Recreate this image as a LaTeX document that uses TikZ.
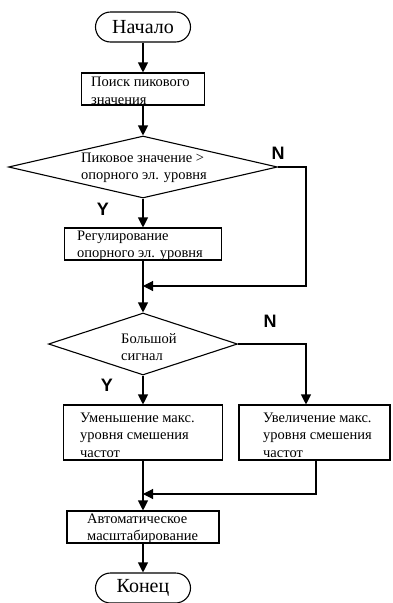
\documentclass[tikz,border=0pt]{standalone}
\usepackage{fontspec}
\setmainfont{Liberation Serif}
\newfontfamily\lblfont{Liberation Sans}
\usetikzlibrary{arrows.meta,shapes.geometric}
\tikzset{
  box/.style={draw, line width=1.1pt, inner sep=0pt},
  term/.style={draw, line width=1.1pt, rounded corners=15pt, minimum width=95pt, minimum height=30pt, inner sep=0pt, font=\fontsize{20}{22}\selectfont},
  dia/.style={draw, line width=1.1pt, diamond, inner sep=0pt},
  txt/.style={anchor=west, align=left, inner sep=0pt, font=\fontsize{14.5}{17.5}\selectfont},
  yn/.style={inner sep=0pt, font=\lblfont\bfseries\fontsize{18}{20}\selectfont},
  arr/.style={line width=1.1pt, -{Triangle[length=10pt,width=10pt]}},
  ln/.style={line width=1.1pt}
}
\begin{document}
\begin{tikzpicture}[x=1pt,y=-1pt]
\useasboundingbox (0,0) rectangle (392,603);
% terminals
\node[term] (start) at (143,27) {Начало};
\node[term] (end) at (143,588) {Конец};
% box 1
\node[box, minimum width=123pt, minimum height=32pt] (b1) at (143,89) {};
\node[txt] (t1) at (91,91) {Поиск пикового\\значения};
% diamond 1
\node[dia, minimum width=269pt, minimum height=62pt] (d1) at (143,167) {};
\node[txt] (td1) at (81,168) {Пиковое значение >\\опорного эл. уровня};
\node[yn] (y1) at (103,209) {Y};
\node[yn] (n1) at (278,153) {N};
% box 2
\node[box, minimum width=157pt, minimum height=32pt] (b2) at (143,244) {};
\node[txt] (t2) at (77,246) {Регулирование\\опорного эл. уровня};
\coordinate (m1) at (143,286);
% diamond 2
\node[dia, minimum width=189pt, minimum height=62pt] (d2) at (143,344) {};
\node[txt] (td2) at (121,347) {Большой\\сигнал};
\node[yn] (n2) at (270,321) {N};
\node[yn] (y2) at (107,385) {Y};
% box 3, box 4
\node[box, minimum width=159pt, minimum height=55pt] (b3) at (143,432.5) {};
\node[txt] (t3) at (80,435) {Уменьшение макс.\\уровня смешения\\частот};
\node[box, minimum width=151pt, minimum height=55pt] (b4) at (314.5,432.5) {};
\node[txt] (t4) at (263,435) {Увеличение макс.\\уровня смешения\\частот};
\coordinate (m2) at (143,494);
% box 5
\node[box, minimum width=152pt, minimum height=32pt] (b5) at (143,527) {};
\node[txt] (t5) at (87,529) {Автоматическое\\масштабирование};
% connectors
\draw[arr] (start) -- (b1);
\draw[arr] (b1) -- (d1);
\draw[arr] (d1) -- (b2);
\draw[arr] (d1.east) -- (306,167) |- (m1);
\draw[arr] (b2) -- (d2);
\draw[arr] (d2) -- (b3);
\draw[arr] (d2.east) -| (b4.north -| 306,0);
\draw[arr] (b3) -- (b5);
\draw[arr] (316,460) |- (m2);
\draw[arr] (b5) -- (end);
\end{tikzpicture}
\end{document}
